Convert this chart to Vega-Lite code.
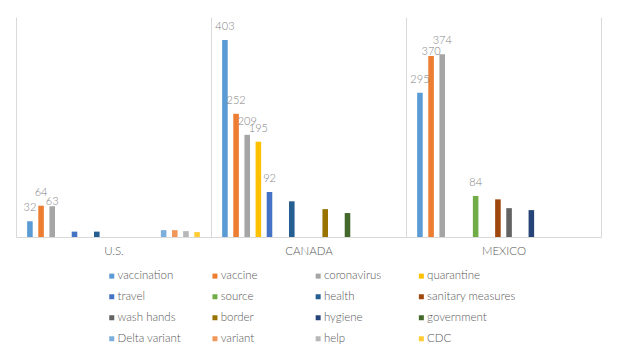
{
  "$schema": "https://vega.github.io/schema/vega-lite/v6.json",
  "width": 585,
  "height": 220,
  "autosize": {"type": "none"},
  "padding": {"left": 16, "top": 17, "right": 19, "bottom": 118},
  "background": "white",
  "config": {"view": {"stroke": null}, "font": "Lato"},
  "data": {
    "values": [
      {"country": "U.S.", "term": "vaccination", "count": 32},
      {"country": "U.S.", "term": "vaccine", "count": 64},
      {"country": "U.S.", "term": "coronavirus", "count": 63},
      {"country": "U.S.", "term": "travel", "count": 11},
      {"country": "U.S.", "term": "health", "count": 11},
      {"country": "U.S.", "term": "Delta variant", "count": 14},
      {"country": "U.S.", "term": "variant", "count": 14},
      {"country": "U.S.", "term": "help", "count": 12},
      {"country": "U.S.", "term": "CDC", "count": 10},
      {"country": "CANADA", "term": "vaccination", "count": 403},
      {"country": "CANADA", "term": "vaccine", "count": 252},
      {"country": "CANADA", "term": "coronavirus", "count": 209},
      {"country": "CANADA", "term": "quarantine", "count": 195},
      {"country": "CANADA", "term": "travel", "count": 92},
      {"country": "CANADA", "term": "health", "count": 73},
      {"country": "CANADA", "term": "border", "count": 57},
      {"country": "CANADA", "term": "government", "count": 49},
      {"country": "MEXICO", "term": "vaccination", "count": 295},
      {"country": "MEXICO", "term": "vaccine", "count": 370},
      {"country": "MEXICO", "term": "coronavirus", "count": 374},
      {"country": "MEXICO", "term": "source", "count": 84},
      {"country": "MEXICO", "term": "sanitary measures", "count": 77},
      {"country": "MEXICO", "term": "wash hands", "count": 59},
      {"country": "MEXICO", "term": "hygiene", "count": 55}
    ]
  },
  "encoding": {
    "x": {
      "field": "country",
      "type": "nominal",
      "sort": ["U.S.", "CANADA", "MEXICO"],
      "scale": {"paddingInner": 0, "paddingOuter": 0},
      "axis": {
        "title": null,
        "labelAngle": 0,
        "labelFontSize": 11.5,
        "labelFontWeight": 300,
        "labelColor": "#595959",
        "labelPadding": 8,
        "ticks": false,
        "domainColor": "#d9d9d9",
        "grid": true,
        "gridColor": "#d9d9d9",
        "tickBand": "extent"
      }
    },
    "xOffset": {
      "field": "term",
      "type": "nominal",
      "scale": {
        "domain": ["vaccination", "vaccine", "coronavirus", "quarantine", "travel", "source", "health", "sanitary measures", "wash hands", "border", "hygiene", "government", "Delta variant", "variant", "help", "CDC"],
        "paddingInner": 0.5,
        "paddingOuter": 1.11
      }
    },
    "y": {
      "field": "count",
      "type": "quantitative",
      "scale": {"domain": [0, 450]},
      "axis": null
    }
  },
  "layer": [
    {
      "mark": {"type": "bar"},
      "encoding": {
        "color": {
          "field": "term",
          "type": "nominal",
          "scale": {
            "domain": ["vaccination", "vaccine", "coronavirus", "quarantine", "travel", "source", "health", "sanitary measures", "wash hands", "border", "hygiene", "government", "Delta variant", "variant", "help", "CDC"],
            "range": ["#5B9BD5", "#ED7D31", "#A5A5A5", "#FFC000", "#4472C4", "#70AD47", "#255E91", "#9E480E", "#636363", "#997300", "#264478", "#43682B", "#7CAFDD", "#F1975A", "#B7B7B7", "#FFCD33"]
          },
          "legend": {
            "title": null,
            "orient": "none",
            "legendX": 90,
            "legendY": 253,
            "columns": 4,
            "direction": "horizontal",
            "gridAlign": "all",
            "columnPadding": 3.2,
            "rowPadding": 8,
            "symbolType": "square",
            "symbolSize": 25,
            "symbolStrokeWidth": 0,
            "labelFontSize": 11.5,
            "labelFontWeight": 300,
            "labelColor": "#595959",
            "labelOffset": 0,
            "labelLimit": 200
          }
        }
      }
    },
    {
      "transform": [
        {"filter": "(datum.count >= 84 || (datum.country == 'U.S.' && datum.count >= 32)) && datum.count != 63 && datum.count != 370"}
      ],
      "mark": {"type": "text", "baseline": "middle", "dy": -13, "fontSize": 11, "fontWeight": 300, "color": "#7f7f7f"},
      "encoding": {"text": {"field": "count", "type": "quantitative"}}
    },
    {
      "transform": [
        {"filter": "datum.count == 63 || datum.count == 370"}
      ],
      "mark": {"type": "text", "baseline": "middle", "dy": -4.5, "fontSize": 11, "fontWeight": 300, "color": "#7f7f7f"},
      "encoding": {"text": {"field": "count", "type": "quantitative"}}
    }
  ]
}
